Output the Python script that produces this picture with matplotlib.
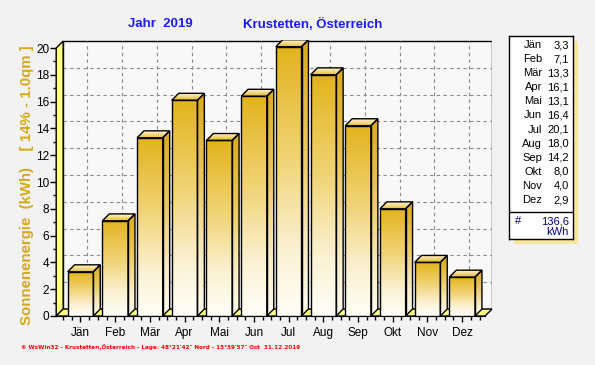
import numpy as np
import matplotlib.pyplot as plt
from matplotlib.patches import Polygon
from matplotlib.colors import LinearSegmentedColormap

months = ['Jän', 'Feb', 'Mär', 'Apr', 'Mai', 'Jun', 'Jul', 'Aug', 'Sep', 'Okt', 'Nov', 'Dez']
values = [3.3, 7.1, 13.3, 16.1, 13.1, 16.4, 20.1, 18.0, 14.2, 8.0, 4.0, 2.9]
total = 136.6
value_labels = ['3,3', '7,1', '13,3', '16,1', '13,1', '16,4', '20,1', '18,0', '14,2', '8,0', '4,0', '2,9']
total_label = '136,6'

plt.rcParams['font.family'] = ['Liberation Sans', 'DejaVu Sans']

W, H = 595, 365
fig = plt.figure(figsize=(W / 100, H / 100), dpi=100, facecolor='#f2f2f2')

# pixel geometry of the plotting box
x_lo, x_hi, y_hi = -0.7, 11.86, 20.6
ax = fig.add_axes([56.2 / W, 49 / H, (492 - 56.2) / W, (316 - 40) / H])
ax.set_facecolor('none')
dx, dy = 0.2, 0.52   # 3d depth offset in data units
hw = 0.37            # half bar width

# back wall
ax.add_patch(Polygon([(x_lo + dx, dy), (x_hi, dy), (x_hi, 20 + dy), (x_lo + dx, 20 + dy)],
                     closed=True, fc='#f8f8f8', ec='black', lw=1, zorder=1))
# grid on back wall
for k in range(2, 20, 2):
    ax.plot([x_lo + dx, x_hi], [k + dy, k + dy], ls=(0, (3, 3)), color='#8a8a8a', lw=0.8, zorder=2)
for i in range(len(months)):
    ax.plot([i + dx, i + dx], [dy, 20 + dy], ls=(0, (3, 3)), color='#8a8a8a', lw=0.8, zorder=2)

# left wall and floor
yellow = '#ffff80'
ax.add_patch(Polygon([(x_lo, 0), (x_lo + dx, dy), (x_lo + dx, 20 + dy), (x_lo, 20)],
                     closed=True, fc=yellow, ec='black', lw=1, zorder=3, clip_on=False))
ax.add_patch(Polygon([(x_lo, 0), (x_hi - dx, 0), (x_hi, dy), (x_lo + dx, dy)],
                     closed=True, fc=yellow, ec='black', lw=1, zorder=3, clip_on=False))

front_cmap = LinearSegmentedColormap.from_list(
    'front', [(0, '#fffef8'), (0.25, '#fbf1d2'), (0.6, '#f0d272'), (1, '#e2b31c')])
side_cmap = LinearSegmentedColormap.from_list(
    'side', [(0, '#fffcf0'), (0.25, '#f8ecc4'), (0.6, '#ecc85c'), (1, '#dcaa18')])
top_cmap = LinearSegmentedColormap.from_list('top', ['#e6bb2c', '#fff6d6'])
grad = np.linspace(0, 1, 256).reshape(-1, 1)


def gradient_patch(verts, cmap, y0, y1, z):
    poly = Polygon(verts, closed=True, fc='none', ec='black', lw=1, zorder=z + 0.5)
    ax.add_patch(poly)
    xs = [v[0] for v in verts]
    im = ax.imshow(grad, cmap=cmap, origin='lower', aspect='auto',
                   extent=[min(xs), max(xs), y0, y1], zorder=z, interpolation='bilinear')
    im.set_clip_path(poly)


for i, v in enumerate(values):
    z = 4 + i
    gradient_patch([(i - hw, 0), (i + hw, 0), (i + hw, v), (i - hw, v)], front_cmap, 0, v, z)
    gradient_patch([(i + hw, 0), (i + hw + dx, dy), (i + hw + dx, v + dy), (i + hw, v)],
                   side_cmap, 0, v + dy, z)
    gradient_patch([(i - hw, v), (i + hw, v), (i + hw + dx, v + dy), (i - hw + dx, v + dy)],
                   top_cmap, v, v + dy, z)

ax.set_xlim(x_lo, x_hi)
ax.set_ylim(0, y_hi)
for s in ['top', 'right']:
    ax.spines[s].set_visible(False)
ax.spines['left'].set_bounds(0, 20)
ax.spines['bottom'].set_bounds(x_lo, x_hi - dx)
ax.set_yticks(range(0, 21, 2))
ax.set_yticks(range(0, 21), minor=True)
ax.set_xticks(range(len(months)))
ax.set_xticklabels(months)
ax.set_xticks(np.arange(-0.5, 11.6, 0.25), minor=True)
ax.tick_params(axis='both', which='both', direction='out', labelsize=8.5, width=1)
ax.tick_params(axis='y', which='major', length=4, pad=1)
ax.tick_params(axis='y', which='minor', length=2)
ax.tick_params(axis='x', which='major', length=4, pad=4)
ax.tick_params(axis='x', which='minor', length=3)

# titles
fig.text(160 / W, 1 - 24 / H, 'Jahr  2019', color='#1a1aff', fontsize=9.5,
         fontweight='bold', ha='center', va='center')
fig.text(313 / W, 1 - 24 / H, 'Krustetten, Österreich', color='#1a1aff', fontsize=9.5,
         fontweight='bold', ha='center', va='center')

# y label
fig.text(27 / W, 1 - 185 / H, 'Sonnenenergie  (kWh)    [ 14% - 1.0qm ]', color='#d8a818',
         fontsize=10.8, fontweight='bold', rotation=90, ha='center', va='center')

# footer
fig.text(21 / W, 1 - 347 / H,
         '© WsWin32 - Krustetten,Österreich - Lage: 48°21\'42" Nord - 15°39\'57" Ost  31.12.2019',
         color='#ff0000', fontsize=4.1, fontweight='bold', ha='left', va='center',
         family='DejaVu Sans')

# summary box
box = fig.add_axes([509 / W, 1 - 239 / H, (573 - 509) / W, (239 - 36) / H])
box.set_xlim(0, 1)
box.set_ylim(1, 0)
box.set_xticks([])
box.set_yticks([])
box.set_facecolor('white')
for s in box.spines.values():
    s.set_linewidth(1)
shadow = fig.add_axes([514 / W, 1 - 244 / H, (578 - 514) / W, (244 - 41) / H], zorder=-1)
shadow.set_facecolor('#f7e69c')
shadow.set_xticks([])
shadow.set_yticks([])
for s in shadow.spines.values():
    s.set_visible(False)
box.set_zorder(2)

row = lambda py: (py - 36) / (239 - 36)
colx = lambda px: (px - 509) / (573 - 509)
for i, (m, lab) in enumerate(zip(months, value_labels)):
    yy = row(45 + i * 14.1)
    box.text(colx(542), yy, m, ha='right', va='center', fontsize=8)
    box.text(colx(569), yy, lab, ha='right', va='center', fontsize=8)
box.axhline(row(212), color='black', lw=1)
box.text(colx(515), row(221), '#', ha='left', va='center', fontsize=8, color='#000080')
box.text(colx(569), row(221), total_label, ha='right', va='center', fontsize=8, color='#000080')
box.text(colx(569), row(232), 'kWh', ha='right', va='center', fontsize=8, color='#000080')

fig.savefig('out.png', dpi=100, facecolor=fig.get_facecolor())
